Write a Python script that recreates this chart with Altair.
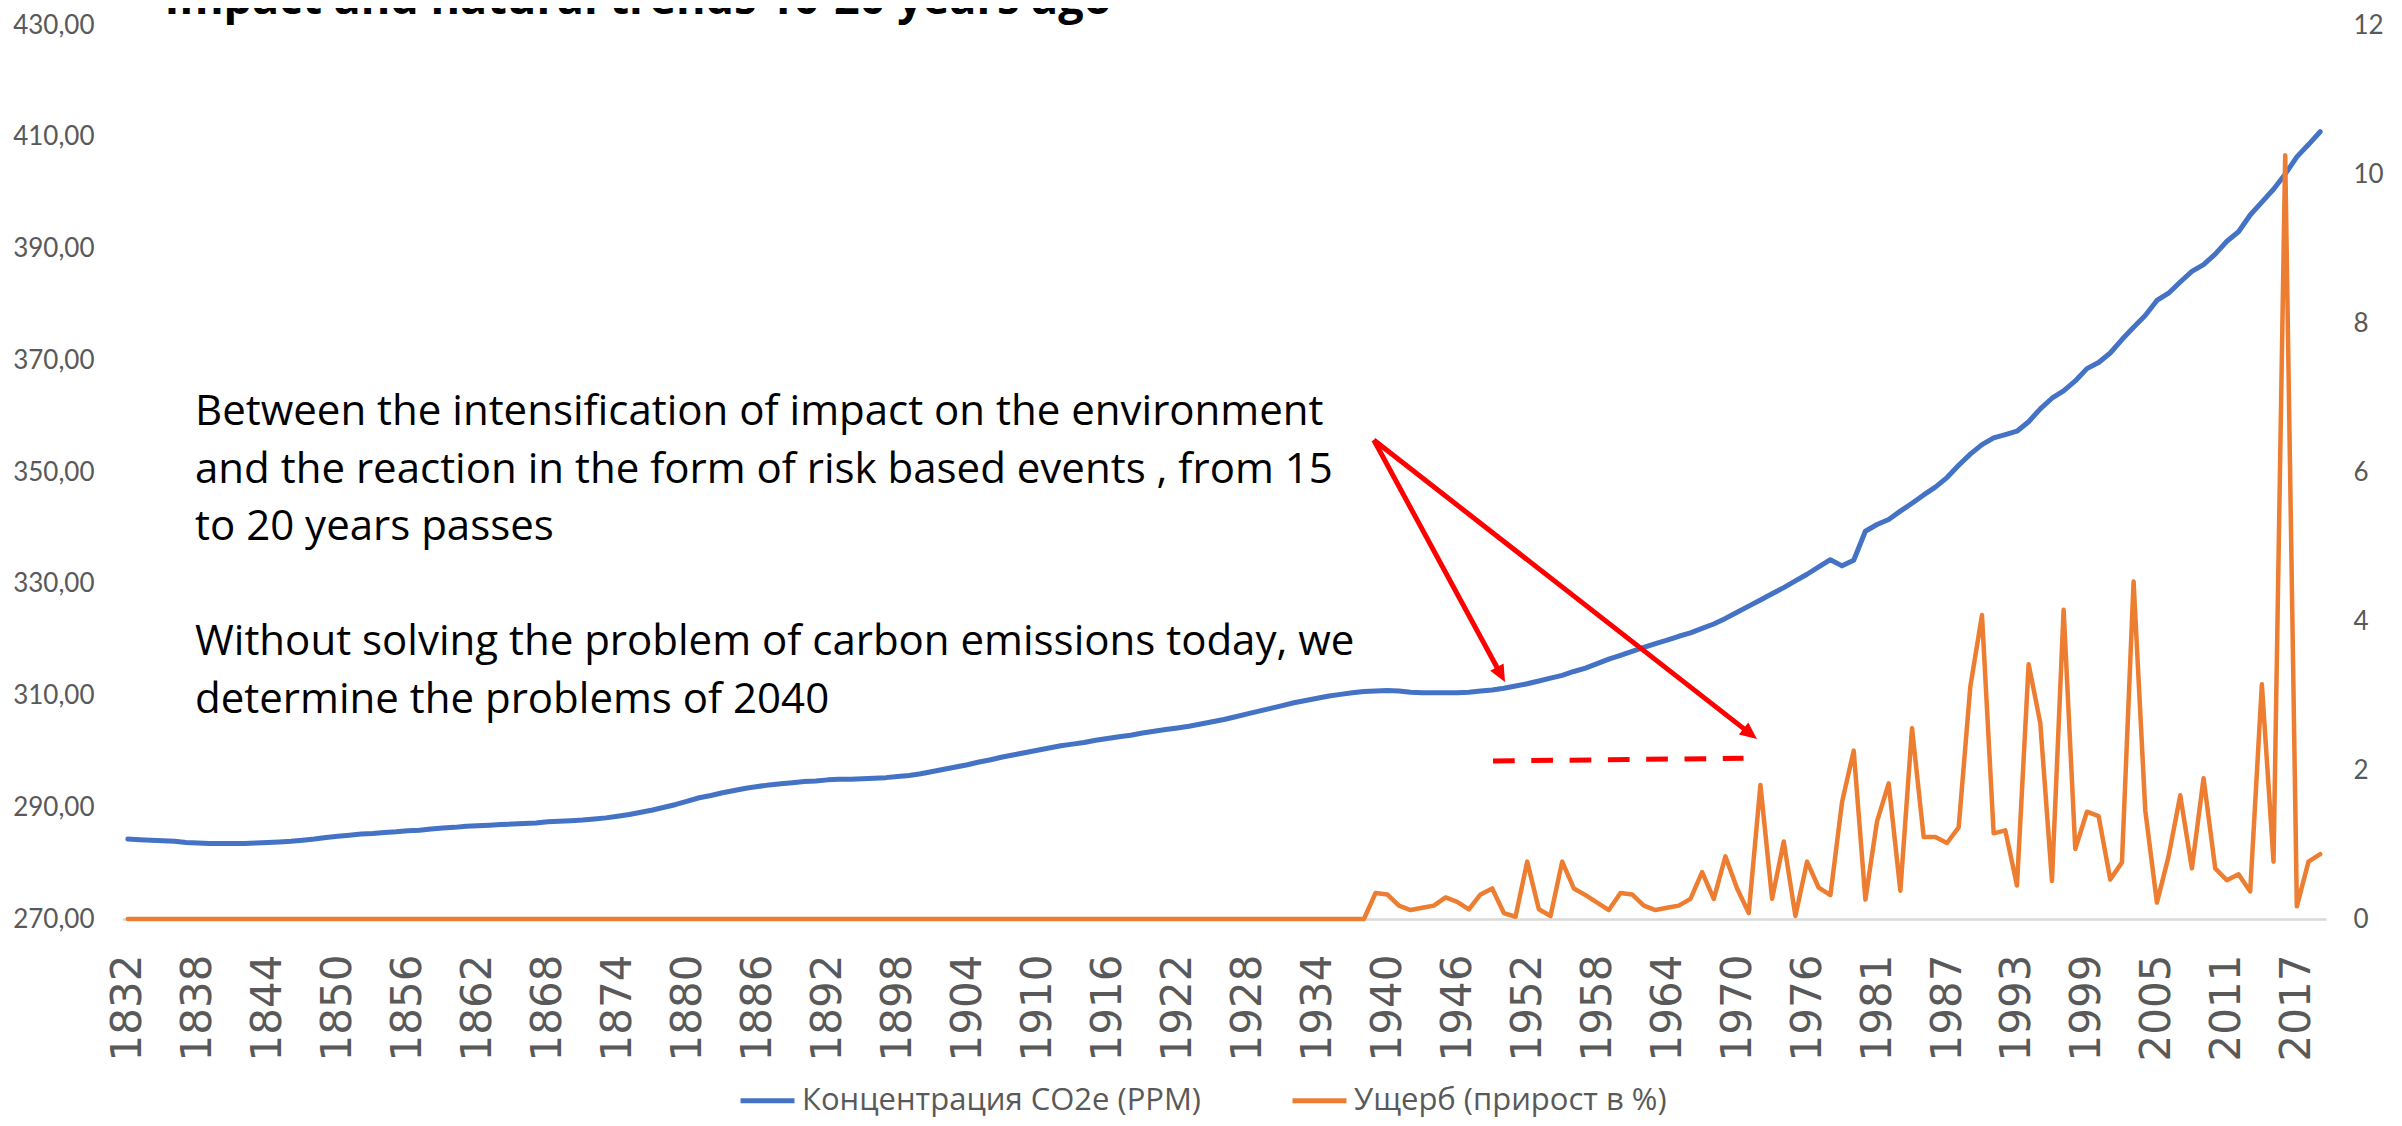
import altair as alt
import pandas as pd

# ---------------- data ----------------
years = [
    1832, 1833, 1834, 1835, 1836, 1837, 1838, 1839, 1840, 1841, 1842, 1843, 1844, 1845, 1846, 1847, 1848, 1849, 1850, 1851,
    1852, 1853, 1854, 1855, 1856, 1857, 1858, 1859, 1860, 1861, 1862, 1863, 1864, 1865, 1866, 1867, 1868, 1869, 1870, 1871,
    1872, 1873, 1874, 1875, 1876, 1877, 1878, 1879, 1880, 1881, 1882, 1883, 1884, 1885, 1886, 1887, 1888, 1889, 1890, 1891,
    1892, 1893, 1894, 1895, 1896, 1897, 1898, 1899, 1900, 1901, 1902, 1903, 1904, 1905, 1906, 1907, 1908, 1909, 1910, 1911,
    1912, 1913, 1914, 1915, 1916, 1917, 1918, 1919, 1920, 1921, 1922, 1923, 1924, 1925, 1926, 1927, 1928, 1929, 1930, 1931,
    1932, 1933, 1934, 1935, 1936, 1937, 1938, 1939, 1940, 1941, 1942, 1943, 1944, 1945, 1946, 1947, 1948, 1949, 1950, 1951,
    1952, 1953, 1954, 1955, 1956, 1957, 1958, 1959, 1960, 1961, 1962, 1963, 1964, 1965, 1966, 1967, 1968, 1969, 1970, 1971,
    1972, 1973, 1974, 1975, 1976, 1977, 1978, 1979, 1979, 1980, 1981, 1982, 1983, 1984, 1985, 1986, 1987, 1988, 1989, 1990,
    1991, 1992, 1993, 1994, 1995, 1996, 1997, 1998, 1999, 2000, 2001, 2002, 2003, 2004, 2005, 2006, 2007, 2008, 2009, 2010,
    2011, 2012, 2013, 2014, 2015, 2016, 2017, 2018, 2019,
]

co2_ppm = [
    284.3, 284.2, 284.1, 284.0, 283.9, 283.7, 283.6, 283.5, 283.5, 283.5, 283.5,
    283.6, 283.7, 283.8, 283.9, 284.1, 284.3, 284.6, 284.8, 285.0, 285.2,
    285.3, 285.5, 285.6, 285.8, 285.9, 286.1, 286.3, 286.4, 286.6, 286.7,
    286.8, 286.9, 287.0, 287.1, 287.2, 287.4, 287.5, 287.6, 287.7, 287.9,
    288.1, 288.4, 288.7, 289.1, 289.5, 290.0, 290.5, 291.1, 291.7, 292.1,
    292.6, 293.0, 293.4, 293.7, 294.0, 294.2, 294.4, 294.6, 294.7, 294.9,
    295.0, 295.0, 295.1, 295.2, 295.3, 295.5, 295.7, 296.0, 296.4, 296.8,
    297.2, 297.6, 298.1, 298.5, 299.0, 299.4, 299.8, 300.2, 300.6, 301.0,
    301.3, 301.6, 302.0, 302.3, 302.6, 302.9, 303.3, 303.6, 303.9, 304.2,
    304.5, 304.9, 305.3, 305.7, 306.2, 306.7, 307.2, 307.7, 308.2, 308.7,
    309.1, 309.5, 309.9, 310.2, 310.5, 310.7, 310.8, 310.9, 310.8, 310.6,
    310.5, 310.5, 310.5, 310.5, 310.6, 310.8, 311.0, 311.3, 311.7, 312.1,
    312.6, 313.1, 313.6, 314.3, 314.9, 315.7, 316.5, 317.2, 317.9, 318.6,
    319.3, 319.9, 320.6, 321.2, 322.0, 322.8, 323.8, 324.9, 326.0, 327.1,
    328.2, 329.3, 330.5, 331.7, 333.0, 334.3, 333.2, 334.2, 339.4, 340.6,
    341.5, 343.0, 344.4, 345.9, 347.3, 349.0, 351.2, 353.2, 354.9, 356.1,
    356.7, 357.3, 359.0, 361.3, 363.2, 364.5, 366.3, 368.5, 369.6, 371.3,
    373.7, 375.9, 378.0, 380.7, 382.0, 384.0, 385.9, 387.1, 389.0, 391.3,
    393.0, 396.0, 398.3, 400.6, 403.3, 406.4, 408.6, 410.9,
]

damage_pct = [
    0, 0, 0, 0, 0, 0, 0, 0, 0, 0, 0, 0, 0, 0, 0, 0, 0, 0, 0, 0,
    0, 0, 0, 0, 0, 0, 0, 0, 0, 0, 0, 0, 0, 0, 0, 0, 0, 0, 0, 0,
    0, 0, 0, 0, 0, 0, 0, 0, 0, 0, 0, 0, 0, 0, 0, 0, 0, 0, 0, 0,
    0, 0, 0, 0, 0, 0, 0, 0, 0, 0, 0, 0, 0, 0, 0, 0, 0, 0, 0, 0,
    0, 0, 0, 0, 0, 0, 0, 0, 0, 0, 0, 0, 0, 0, 0, 0, 0, 0, 0, 0,
    0, 0, 0, 0, 0, 0, 0,
    0.35, 0.33, 0.18, 0.12, 0.15, 0.18, 0.29, 0.23, 0.13, 0.33,
    0.41, 0.08, 0.03, 0.77, 0.13, 0.04, 0.77, 0.41, 0.32, 0.22,
    0.12, 0.35, 0.33, 0.18, 0.12, 0.15, 0.18, 0.27, 0.63, 0.27,
    0.84, 0.41, 0.08, 1.80, 0.27, 1.04, 0.04, 0.77, 0.42, 0.32,
    1.57, 2.26, 0.26, 1.31, 1.82, 0.38, 2.56, 1.10, 1.10, 1.02,
    1.23, 3.12, 4.08, 1.15, 1.19, 0.45, 3.42, 2.63, 0.51, 4.15,
    0.94, 1.44, 1.38, 0.53, 0.76, 4.53, 1.46, 0.22, 0.84, 1.66,
    0.68, 1.89, 0.68, 0.52, 0.60, 0.37, 3.15, 0.77, 10.25, 0.17,
    0.77, 0.87,
]

series_names = ["Концентрация CO2e (PPM)", "Ущерб (прирост в %)"]
left_ticks = [270, 290, 310, 330, 350, 370, 390, 410, 430]
right_ticks = [0, 2, 4, 6, 8, 10, 12]

title_text = "Impact and natural trends  10-20 years ago"
note_block1 = [
    "Between the intensification of impact on the environment",
    "and the reaction in the form of risk based events , from 15",
    "to 20 years passes",
]
note_block2 = [
    "Without solving the problem of carbon emissions today, we",
    "determine the problems of 2040",
]

df = pd.DataFrame({
    "idx": list(range(len(years))),
    "year": [str(y) for y in years],
    "co2": co2_ppm,
    "dmg": damage_pct,
})

label_step = 6
x_tick_idx = list(range(0, len(years), label_step))
label_expr = "[" + ",".join("'%s'" % y for y in years) + "][datum.value]"

# ---------------- style ----------------
BLUE = "#4472C4"
ORANGE = "#ED7D31"
GREY = "#595959"
RED = "#FF0000"
FONT = "Lato"
NOTE_FONT = "Open Sans"
LINE_H = 57.5

W, H = 2204, 894
PAD = {"left": 114, "top": 17, "right": 68, "bottom": 199}

x_enc = alt.X(
    "idx:Q",
    scale=alt.Scale(domain=[-0.5, len(years) - 0.5], nice=False, zero=False),
    axis=alt.Axis(
        values=x_tick_idx, labelExpr=label_expr, title=None,
        labelAngle=-90, labelAlign="right", labelBaseline="middle",
        labelFont="DejaVu Sans", labelFontSize=42, labelColor=GREY,
        labelPadding=35, ticks=False, grid=False,
        domain=True, domainColor="#D9D9D9", domainWidth=2.5,
        labelFlush=False, labelOverlap=False, labelBound=False,
    ),
)

color_scale = alt.Scale(domain=series_names, range=[BLUE, ORANGE])
legend = alt.Legend(
    title=None, orient="none", legendX=616, legendY=1046, direction="horizontal",
    symbolType="stroke", symbolStrokeWidth=5, symbolSize=2916,
    labelFont=NOTE_FONT, labelFontSize=31, labelColor=GREY, labelOffset=5,
    labelLimit=0, columnPadding=80, padding=0,
)

base = alt.Chart(df)

blue = base.transform_calculate(series="'%s'" % series_names[0]).mark_line(
    strokeWidth=5, strokeJoin="round", strokeCap="round"
).encode(
    x=x_enc,
    y=alt.Y(
        "co2:Q",
        scale=alt.Scale(domain=[270, 430], nice=False, zero=False),
        axis=alt.Axis(
            orient="left", values=left_ticks, title=None,
            labelExpr="replace(format(datum.value, '.2f'), '.', ',')",
            labelFont=FONT, labelFontSize=26, labelColor=GREY, labelPadding=28,
            domain=False, ticks=False, grid=False, labelFlush=False,
        ),
    ),
    color=alt.Color("series:N", scale=color_scale, legend=legend),
)

orange = base.transform_calculate(series="'%s'" % series_names[1]).mark_line(
    strokeWidth=4.5, strokeJoin="round", strokeCap="round"
).encode(
    x=x_enc,
    y=alt.Y(
        "dmg:Q",
        scale=alt.Scale(domain=[0, 12], nice=False, zero=True),
        axis=alt.Axis(
            orient="right", values=right_ticks, title=None, format="d",
            labelFont=FONT, labelFontSize=26, labelColor=GREY, labelPadding=27,
            domain=False, ticks=False, grid=False, labelFlush=False,
        ),
    ),
    color=alt.Color("series:N", scale=color_scale, legend=legend),
)

one = alt.Chart(pd.DataFrame({"k": [0]}))

title_mark = one.mark_text(
    text=title_text, font=NOTE_FONT, fontWeight="bold", fontSize=45, color="#000000",
    align="left", baseline="alphabetic",
).encode(x=alt.value(42.5), y=alt.value(-11))

note1 = one.mark_text(
    text=note_block1, font=NOTE_FONT, fontSize=42, color="#000000",
    align="left", baseline="alphabetic", lineHeight=LINE_H,
).encode(x=alt.value(73), y=alt.value(400))

note2 = one.mark_text(
    text=note_block2, font=NOTE_FONT, fontSize=42, color="#000000",
    align="left", baseline="alphabetic", lineHeight=LINE_H,
).encode(x=alt.value(73), y=alt.value(400 + 4 * LINE_H))

arrow1 = one.mark_rule(color=RED, strokeWidth=5).encode(
    x=alt.value(1251.8), y=alt.value(415), x2=alt.value(1376.3), y2=alt.value(644.7)
)
arrow2 = one.mark_rule(color=RED, strokeWidth=5).encode(
    x=alt.value(1251.8), y=alt.value(415), x2=alt.value(1624), y2=alt.value(705.4)
)

head_shape = "M0,1L-0.9,-1L0.9,-1Z"
head1 = one.mark_point(
    shape=head_shape, size=289, filled=True, color=RED, opacity=1, angle=331.5
).encode(x=alt.value(1378.95), y=alt.value(649.5))
head2 = one.mark_point(
    shape=head_shape, size=289, filled=True, color=RED, opacity=1, angle=308
).encode(x=alt.value(1628.3), y=alt.value(708.8))

dashed = one.mark_rule(color=RED, strokeWidth=5, strokeDash=[21.7, 16.6]).encode(
    x=alt.value(1371), y=alt.value(736), x2=alt.value(1621.5), y2=alt.value(733.3)
)

chart = alt.layer(
    blue, orange, title_mark, note1, note2, arrow1, arrow2, head1, head2, dashed
).resolve_scale(y="independent").properties(
    width=W, height=H, autosize="none", padding=PAD,
).configure_view(stroke=None)

chart.save("out.html", embed_options={"renderer": "svg", "actions": False})
